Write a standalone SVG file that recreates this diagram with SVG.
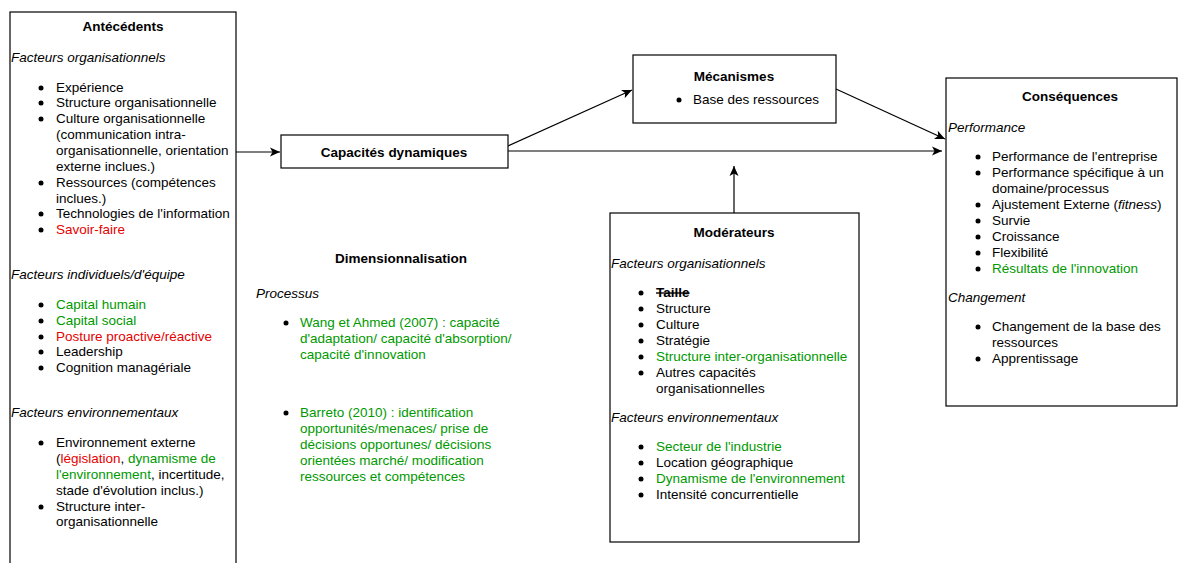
<svg xmlns="http://www.w3.org/2000/svg" width="1188" height="563" viewBox="0 0 1188 563">
<defs>
<marker id="arr" viewBox="0 0 10 10" refX="10" refY="5" markerWidth="10" markerHeight="10" markerUnits="userSpaceOnUse" orient="auto">
<path d="M0,0.5 L10,5 L0,9.5 L2.5,5 z" fill="#000"/>
</marker>
<style>
.box{fill:#fff;stroke:#000;stroke-width:1.2}
text{font-family:"Liberation Sans",Arial,sans-serif;font-size:13.5px;fill:#000}
.t{font-weight:bold;text-anchor:middle}
.i{font-style:italic}
.g{fill:#009900}
.r{fill:#e60000}
.b{fill:#000}
.c{stroke:#000;stroke-width:1.2;fill:none;marker-end:url(#arr)}
</style>
</defs>
<rect width="1188" height="563" fill="#fff"/>

<g id="connectors">
<line class="c" x1="236" y1="152" x2="280" y2="152"/>
<line class="c" x1="508" y1="146" x2="632" y2="90"/>
<line class="c" x1="508" y1="151" x2="942" y2="151"/>
<line class="c" x1="836" y1="89" x2="945" y2="139"/>
<line class="c" x1="734" y1="213" x2="734" y2="166"/>
</g>

<g id="antecedents">
<rect class="box" x="10" y="12" width="226" height="570"/>
<text class="t" x="123" y="31">Antécédents</text>
<text class="i" x="11" y="62">Facteurs organisationnels</text>
<g class="b"><circle cx="41" cy="88" r="2.5"/><circle cx="41" cy="103" r="2.5"/><circle cx="41" cy="119" r="2.5"/><circle cx="41" cy="183" r="2.5"/><circle cx="41" cy="214" r="2.5"/><circle cx="41" cy="230" r="2.5"/>
<circle cx="41" cy="305" r="2.5"/><circle cx="41" cy="321" r="2.5"/><circle cx="41" cy="337" r="2.5"/><circle cx="41" cy="352" r="2.5"/><circle cx="41" cy="368" r="2.5"/>
<circle cx="41" cy="443" r="2.5"/><circle cx="41" cy="507" r="2.5"/></g>
<text x="56" y="92">Expérience</text>
<text x="56" y="107">Structure organisationnelle</text>
<text x="56" y="123">Culture organisationnelle</text>
<text x="56" y="139">(communication intra-</text>
<text x="56" y="155">organisationnelle, orientation</text>
<text x="56" y="171">externe inclues.)</text>
<text x="56" y="187">Ressources (compétences</text>
<text x="56" y="203">inclues.)</text>
<text x="56" y="218">Technologies de l'information</text>
<text x="56" y="234" class="r">Savoir-faire</text>
<text class="i" x="11" y="279">Facteurs individuels/d'équipe</text>
<text x="56" y="309" class="g">Capital humain</text>
<text x="56" y="325" class="g">Capital social</text>
<text x="56" y="341" class="r">Posture proactive/réactive</text>
<text x="56" y="356">Leadership</text>
<text x="56" y="372">Cognition managériale</text>
<text class="i" x="11" y="417">Facteurs environnementaux</text>
<text x="56" y="447">Environnement externe</text>
<text x="56" y="463">(<tspan class="r">législation</tspan>, <tspan class="g">dynamisme de</tspan></text>
<text x="56" y="479"><tspan class="g">l'environnement</tspan>, incertitude,</text>
<text x="56" y="495">stade d'évolution inclus.)</text>
<text x="56" y="511">Structure inter-</text>
<text x="56" y="526">organisationnelle</text>
</g>

<g id="capacites">
<rect class="box" x="281" y="135" width="227" height="33"/>
<text class="t" x="394" y="157">Capacités dynamiques</text>
</g>

<g id="mecanismes">
<rect class="box" x="633" y="55" width="203" height="68"/>
<text class="t" x="734" y="81">Mécanismes</text>
<circle cx="679" cy="100" r="2.5"/>
<text x="693" y="104">Base des ressources</text>
</g>

<g id="dimensionnalisation">
<text class="t" x="401" y="263">Dimensionnalisation</text>
<text class="i" x="256" y="298">Processus</text>
<circle cx="286" cy="323" r="2.5"/>
<text x="300" y="327" class="g">Wang et Ahmed (2007) : capacité</text>
<text x="300" y="343" class="g">d'adaptation/ capacité d'absorption/</text>
<text x="300" y="359" class="g">capacité d'innovation</text>
<circle cx="286" cy="413" r="2.5"/>
<text x="300" y="417" class="g">Barreto (2010) : identification</text>
<text x="300" y="433" class="g">opportunités/menaces/ prise de</text>
<text x="300" y="449" class="g">décisions opportunes/ décisions</text>
<text x="300" y="465" class="g">orientées marché/ modification</text>
<text x="300" y="481" class="g">ressources et compétences</text>
</g>

<g id="moderateurs">
<rect class="box" x="610" y="213" width="249" height="329"/>
<text class="t" x="734" y="237">Modérateurs</text>
<text class="i" x="611" y="268">Facteurs organisationnels</text>
<g class="b"><circle cx="641" cy="293" r="2.5"/><circle cx="641" cy="309" r="2.5"/><circle cx="641" cy="325" r="2.5"/><circle cx="641" cy="341" r="2.5"/><circle cx="641" cy="357" r="2.5"/><circle cx="641" cy="373" r="2.5"/>
<circle cx="641" cy="447" r="2.5"/><circle cx="641" cy="463" r="2.5"/><circle cx="641" cy="479" r="2.5"/><circle cx="641" cy="495" r="2.5"/></g>
<text x="656" y="297" font-weight="bold" text-decoration="line-through">Taille</text>
<text x="656" y="313">Structure</text>
<text x="656" y="329">Culture</text>
<text x="656" y="345">Stratégie</text>
<text x="656" y="361" class="g">Structure inter-organisationnelle</text>
<text x="656" y="377">Autres capacités</text>
<text x="656" y="393">organisationnelles</text>
<text class="i" x="611" y="422">Facteurs environnementaux</text>
<text x="656" y="451" class="g">Secteur de l'industrie</text>
<text x="656" y="467">Location géographique</text>
<text x="656" y="483" class="g">Dynamisme de l'environnement</text>
<text x="656" y="499">Intensité concurrentielle</text>
</g>

<g id="consequences">
<rect class="box" x="946" y="78" width="231" height="328"/>
<text class="t" x="1070" y="101">Conséquences</text>
<text class="i" x="948" y="132">Performance</text>
<g class="b"><circle cx="978" cy="157" r="2.5"/><circle cx="978" cy="173" r="2.5"/><circle cx="978" cy="205" r="2.5"/><circle cx="978" cy="221" r="2.5"/><circle cx="978" cy="237" r="2.5"/><circle cx="978" cy="253" r="2.5"/><circle cx="978" cy="269" r="2.5"/>
<circle cx="978" cy="327" r="2.5"/><circle cx="978" cy="359" r="2.5"/></g>
<text x="992" y="161">Performance de l'entreprise</text>
<text x="992" y="177">Performance spécifique à un</text>
<text x="992" y="193">domaine/processus</text>
<text x="992" y="209">Ajustement Externe (<tspan font-style="italic">fitness</tspan>)</text>
<text x="992" y="225">Survie</text>
<text x="992" y="241">Croissance</text>
<text x="992" y="257">Flexibilité</text>
<text x="992" y="273" class="g">Résultats de l'innovation</text>
<text class="i" x="948" y="302">Changement</text>
<text x="992" y="331">Changement de la base des</text>
<text x="992" y="347">ressources</text>
<text x="992" y="363">Apprentissage</text>
</g>
</svg>
